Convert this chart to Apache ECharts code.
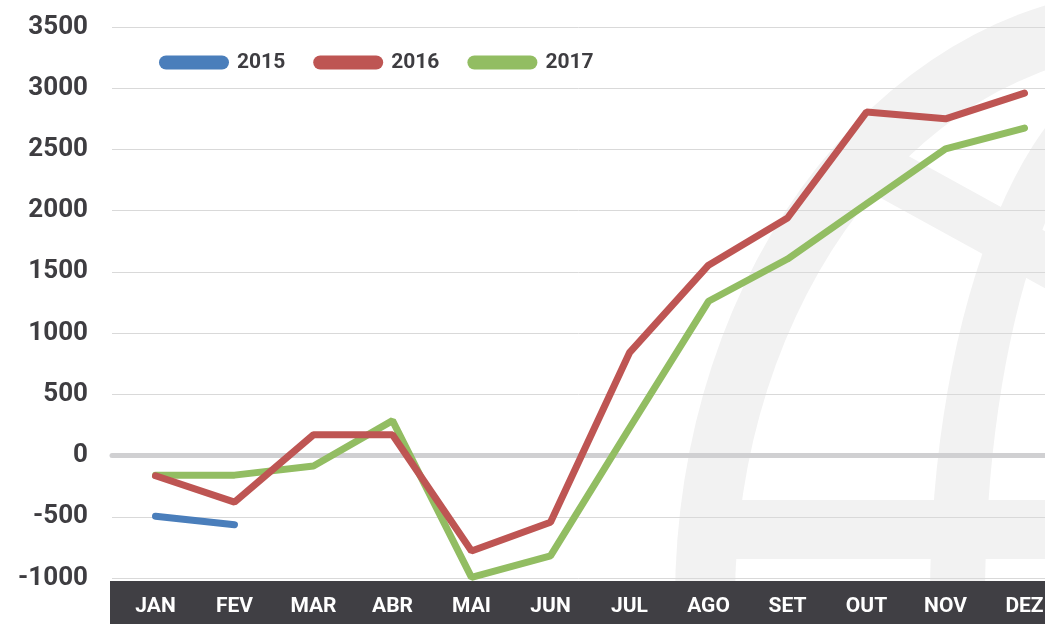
<!DOCTYPE html>
<html>
<head>
<meta charset="utf-8">
<script src="https://cdn.jsdelivr.net/npm/echarts@6/dist/echarts.min.js"></script>
<style>
  html, body { margin: 0; padding: 0; background: #fff; }
  #chart { width: 1045px; height: 624px; }
</style>
</head>
<body>
<div id="chart"></div>
<script>
// categories and values
const months = ["JAN", "FEV", "MAR", "ABR", "MAI", "JUN", "JUL", "AGO", "SET", "OUT", "NOV", "DEZ"];
const s2015 = [-495, -565, null, null, null, null, null, null, null, null, null, null];
const s2016 = [-165, -380, 170, 170, -780, -545, 840, 1555, 1940, 2805, 2750, 2960];
const s2017 = [-160, -160, -85, 285, -995, -820, 225, 1260, 1605, 2055, 2505, 2675];
const yMin = -1000, yMax = 3500, yStep = 500;

const textDark = "#3e3d41";
const wm = "#f2f2f2";
const font = "Roboto";

let chart = echarts.init(document.getElementById("chart"));

let option = {
  animation: false,
  backgroundColor: "#fff",
  textStyle: { fontFamily: font },
  legend: {
    data: ["2015", "2016", "2017"],
    left: 159,
    top: 52,
    padding: 0,
    itemWidth: 70,
    itemHeight: 14,
    itemGap: 28,
    icon: "path://M7 0H63A7 7 0 0 1 63 14H7A7 7 0 0 1 7 0Z",
    textStyle: { color: textDark, fontSize: 21, fontWeight: "bold", fontFamily: font, padding: [0, 0, 0, 3] },
  },
  // background globe watermark and the dark axis band
  graphic: [
    { type: "circle", x: 1160, y: 600, scaleY: 612 / 485, shape: { cx: 0, cy: 0, r: 485 }, style: { fill: wm }, z: -10, silent: true },
    { type: "circle", x: 1160, y: 600, scaleY: 550 / 425, shape: { cx: 0, cy: 0, r: 425 }, style: { fill: "#fff" }, z: -9, silent: true },
    { type: "circle", x: 1160, y: 600, scaleY: 545 / 230, shape: { cx: 0, cy: 0, r: 230 }, style: { fill: wm }, z: -8, silent: true },
    { type: "circle", x: 1160, y: 600, scaleY: 500 / 175, shape: { cx: 0, cy: 0, r: 175 }, style: { fill: "#fff" }, z: -7, silent: true },
    { type: "rect", shape: { x: 700, y: 500, width: 345, height: 59 }, style: { fill: wm }, z: -6, silent: true },
    { type: "line", shape: { x1: 860, y1: 158, x2: 1060, y2: 268 }, style: { stroke: wm, lineWidth: 50 }, z: -6, silent: true },
    { type: "rect", shape: { x: 110, y: 581, width: 935, height: 43 }, style: { fill: "#403f44" }, z: -1, silent: true },
  ],
  grid: [
    { left: 112, right: 0, top: 27, bottom: 46, outerBoundsMode: "none" },
    { left: 116, width: 948, top: 27, bottom: 46, outerBoundsMode: "none" },
  ],
  xAxis: [
    {
      // only draws the thick zero line
      type: "category",
      gridIndex: 0,
      data: months,
      axisLine: { onZero: true, lineStyle: { color: "#d0d0d2", width: 5 } },
      axisTick: { show: false },
      axisLabel: { show: false },
    },
    {
      type: "category",
      gridIndex: 1,
      data: months,
      boundaryGap: true,
      position: "bottom",
      axisLine: { show: false, onZero: false },
      axisTick: { show: false },
      axisLabel: { color: "#fff", fontSize: 21, fontWeight: "bold", fontFamily: font, margin: 18 },
    },
  ],
  yAxis: [
    {
      type: "value",
      gridIndex: 0,
      min: yMin,
      max: yMax,
      interval: yStep,
      axisLine: { show: false },
      axisTick: { show: false },
      axisLabel: {
        color: textDark, fontSize: 26, fontWeight: "bold", fontFamily: font, margin: 24,
        formatter: (v) => String(v),
      },
      splitLine: { lineStyle: { color: "#d9d9d9", width: 1 } },
    },
    {
      type: "value",
      gridIndex: 1,
      min: yMin,
      max: yMax,
      interval: yStep,
      show: false,
      splitLine: { show: false },
    },
  ],
  series: [
    {
      name: "2015", type: "line", xAxisIndex: 1, yAxisIndex: 1, data: s2015,
      color: "#4a7ebb", symbol: "none", clip: false, z: 2,
      lineStyle: { width: 7, cap: "round" },
    },
    {
      name: "2017", type: "line", xAxisIndex: 1, yAxisIndex: 1, data: s2017,
      color: "#92bd62", symbol: "none", clip: false, z: 3,
      lineStyle: { width: 7, cap: "round" },
    },
    {
      name: "2016", type: "line", xAxisIndex: 1, yAxisIndex: 1, data: s2016,
      color: "#be5553", symbol: "none", clip: false, z: 4,
      lineStyle: { width: 7, cap: "round" },
    },
  ],
};

chart.setOption(option);
</script>
</body>
</html>
